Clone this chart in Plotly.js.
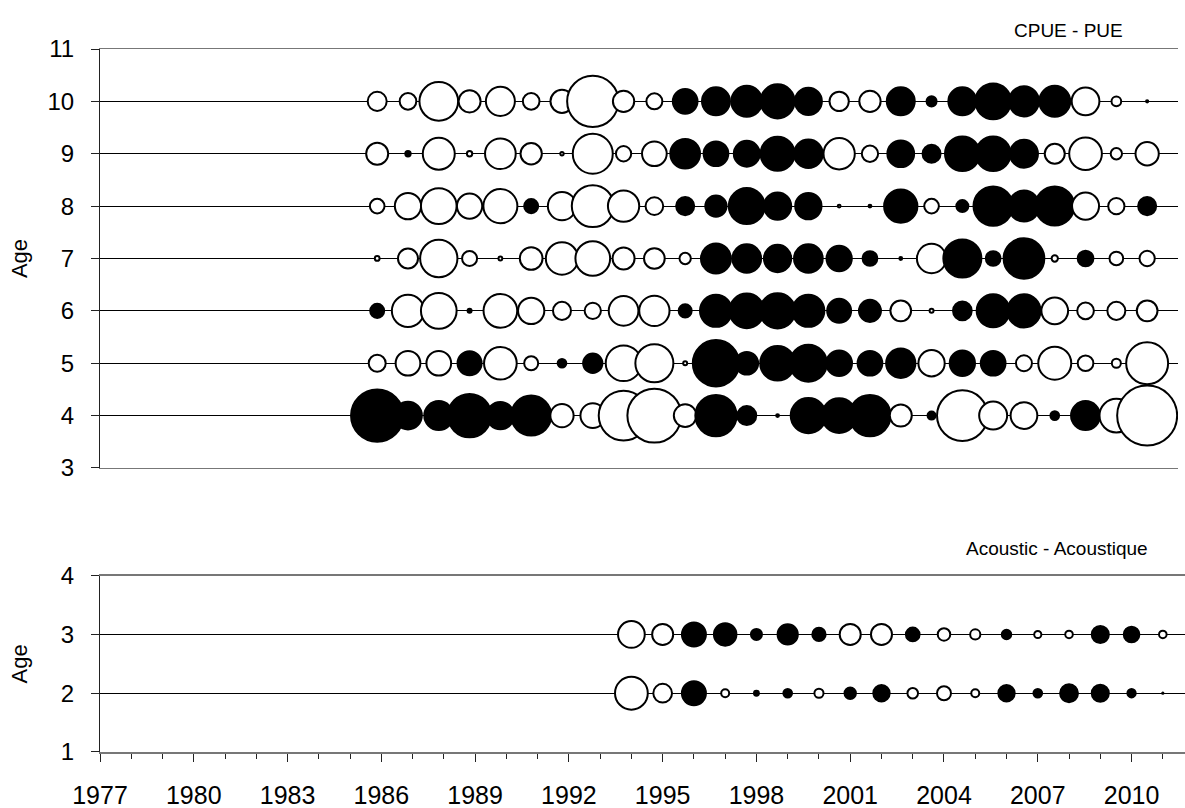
<!DOCTYPE html>
<html>
<head>
<meta charset="utf-8">
<script src="https://cdn.plot.ly/plotly-3.0.1.min.js"></script>
<style>html,body{margin:0;padding:0;background:#fff;}#chart{width:1185px;height:808px;}</style>
</head>
<body>
<div id="chart"></div>
<script>
// CPUE - PUE residuals (positive = black, negative = white), years 1986-2011
const cpueYears = [1986,1987,1988,1989,1990,1991,1992,1993,1994,1995,1996,1997,1998,1999,2000,2001,2002,2003,2004,2005,2006,2007,2008,2009,2010,2011];
const cpueAge10 = [-0.226,-0.174,-0.936,-0.303,-0.526,-0.174,-0.331,-1.645,-0.284,-0.16,0.381,0.49,0.601,0.723,0.456,-0.233,-0.284,0.49,0.063,0.49,0.797,0.563,0.601,-0.48,-0.059,0.003];
const cpueAge9 = [-0.303,0.018,-0.64,-0.018,-0.589,-0.284,-0.007,-1.0,-0.146,-0.381,0.551,0.381,0.42,0.723,0.515,-0.612,-0.166,0.446,0.203,0.753,0.753,0.49,-0.25,-0.668,-0.08,-0.339];
const cpueAge8 = [-0.135,-0.432,-0.797,-0.40,-0.723,0.123,-0.50,-1.10,-0.612,-0.196,0.203,0.284,0.81,0.466,0.432,-0.005,0.005,0.693,-0.135,0.09,0.965,0.601,0.951,-0.456,-0.166,0.203];
const cpueAge7 = [-0.014,-0.25,-0.87,-0.141,-0.009,-0.322,-0.652,-0.753,-0.303,-0.268,-0.08,0.563,0.515,0.466,0.515,0.40,0.135,0.005,-0.537,0.903,0.135,1.035,-0.025,0.154,-0.117,-0.146];
const cpueAge6 = [0.123,-0.652,-0.797,0.01,-0.71,-0.432,-0.203,-0.166,-0.551,-0.574,0.106,0.64,0.753,0.779,0.64,0.36,0.303,-0.268,-0.01,0.219,0.681,0.693,-0.446,-0.174,-0.203,-0.268];
const cpueAge5 = [-0.181,-0.381,-0.381,0.36,-0.668,-0.123,0.047,0.233,-0.797,-0.903,-0.01,1.34,0.322,0.753,0.856,0.413,0.381,0.537,-0.432,0.40,0.381,-0.16,-0.681,-0.154,-0.051,-1.10];
const cpueAge4 = [1.71,0.48,0.526,1.172,0.466,1.0,-0.339,-0.381,-1.544,-1.82,-0.322,1.066,0.226,0.005,0.779,0.753,1.066,-0.303,0.04,-1.607,-0.49,-0.446,0.047,0.526,-0.71,-2.25];

// Acoustic - Acoustique residuals, years 1994-2011
const acYears = [1994,1995,1996,1997,1998,1999,2000,2001,2002,2003,2004,2005,2006,2007,2008,2009,2010,2011];
const acAge3 = [-0.446,-0.276,0.36,0.316,0.076,0.255,0.111,-0.276,-0.276,0.117,-0.098,-0.065,0.056,-0.032,-0.036,0.183,0.152,-0.036];
const acAge2 = [-0.672,-0.219,0.36,-0.04,0.015,0.047,-0.052,0.081,0.168,-0.07,-0.123,-0.04,0.168,0.047,0.20,0.183,0.043,0.001];

const xTickVals = [1977,1980,1983,1986,1989,1992,1995,1998,2001,2004,2007,2010];
const xTickText = ['1977','1980','1983','1986','1989','1992','1995','1998','2001','2004','2007','2010'];

const FONT = 'Liberation Sans, Arial, sans-serif';

function bubbles(xs, age, vals, xa, ya) {
  return {
    type: 'scatter', mode: 'markers',
    x: xs, y: xs.map(() => age),
    xaxis: xa, yaxis: ya,
    hoverinfo: 'skip', showlegend: false,
    marker: {
      size: vals.map(v => Math.abs(v)),
      sizemode: 'area', sizeref: 0.00125,
      color: vals.map(v => v >= 0 ? '#000000' : '#ffffff'),
      line: {color: '#000000', width: 2},
      opacity: 1
    }
  };
}

const traces = [
  bubbles(cpueYears, 10, cpueAge10, 'x', 'y'),
  bubbles(cpueYears, 9, cpueAge9, 'x', 'y'),
  bubbles(cpueYears, 8, cpueAge8, 'x', 'y'),
  bubbles(cpueYears, 7, cpueAge7, 'x', 'y'),
  bubbles(cpueYears, 6, cpueAge6, 'x', 'y'),
  bubbles(cpueYears, 5, cpueAge5, 'x', 'y'),
  bubbles(cpueYears, 4, cpueAge4, 'x', 'y'),
  bubbles(acYears, 3, acAge3, 'x2', 'y2'),
  bubbles(acYears, 2, acAge2, 'x2', 'y2')
];

function yAxis(extra, standoff) {
  return Object.assign({
    dtick: 1, tick0: 0,
    showgrid: true, gridcolor: '#000000', gridwidth: 1,
    zeroline: false,
    showline: true, linecolor: '#222222', linewidth: 1,
    ticks: 'outside', ticklen: 8, tickcolor: '#222222', tickwidth: 1,
    ticklabelstandoff: 12,
    tickfont: {family: FONT, size: 24, color: '#000'},
    title: {text: 'Age', font: {family: FONT, size: 22, color: '#000'}, standoff: standoff}
  }, extra);
}

const layout = {
  width: 1185, height: 808,
  margin: {l: 100, r: 0, t: 49, b: 56},
  paper_bgcolor: '#ffffff', plot_bgcolor: '#ffffff',
  font: {family: FONT, color: '#000'},
  showlegend: false,
  xaxis: {
    domain: [0, 0.9935], range: [1977, 2012],
    anchor: 'y',
    showgrid: false, zeroline: false,
    showticklabels: false, ticks: '',
    showline: true, mirror: true, linecolor: '#777777', linewidth: 1.5
  },
  yaxis: yAxis({domain: [0.404, 1], range: [3, 11], anchor: 'x'}, 13),
  xaxis2: {
    domain: [0, 1], range: [1977, 2011.71],
    anchor: 'y2',
    showgrid: false, zeroline: false,
    tickmode: 'array', tickvals: xTickVals, ticktext: xTickText,
    ticks: 'outside', ticklen: 8, tickcolor: '#222222', tickwidth: 1,
    minor: {dtick: 1, tick0: 1977, ticks: 'outside', ticklen: 5, tickcolor: '#222222', tickwidth: 1, showgrid: false},
    ticklabelstandoff: 12,
    tickfont: {family: FONT, size: 25, color: '#000'},
    showline: true, mirror: true, linecolor: '#777777', linewidth: 1.5
  },
  yaxis2: yAxis({domain: [0, 0.2508], range: [1, 4], anchor: 'x2'}, 27),
  annotations: [
    {text: 'CPUE - PUE', xref: 'paper', yref: 'paper', x: 0.9447, y: 1.027,
     xanchor: 'right', yanchor: 'middle', showarrow: false,
     font: {family: FONT, size: 19, color: '#000'}},
    {text: 'Acoustic - Acoustique', xref: 'paper', yref: 'paper', x: 0.9677, y: 0.2888,
     xanchor: 'right', yanchor: 'middle', showarrow: false,
     font: {family: FONT, size: 19, color: '#000'}}
  ]
};

Plotly.newPlot('chart', traces, layout, {staticPlot: true, displayModeBar: false});
</script>
</body>
</html>
